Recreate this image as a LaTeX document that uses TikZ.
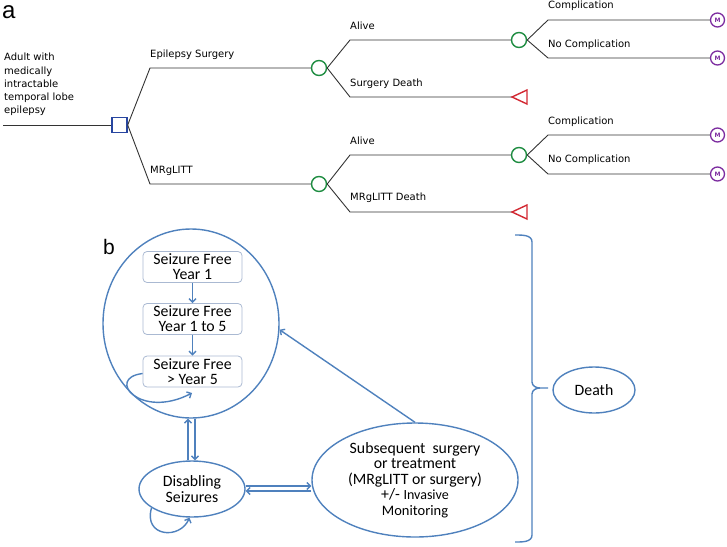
\documentclass[tikz,border=0pt]{standalone}
\usepackage{fontspec}
\setmainfont{DejaVu Sans}
\newfontfamily\calib{Carlito}
\newfontfamily\arialf{Liberation Sans}
\usetikzlibrary{shapes.geometric,arrows.meta}
\definecolor{decblue}{RGB}{40,70,160}
\definecolor{chgreen}{RGB}{30,140,65}
\definecolor{trred}{RGB}{210,40,50}
\definecolor{mkpurple}{RGB}{125,45,160}
\definecolor{bblue}{RGB}{79,129,189}
\definecolor{boxgray}{RGB}{170,185,210}
\begin{document}
\begin{tikzpicture}[x=1pt,y=-1pt,>={Straight Barb[length=3.5pt,width=7pt]},
	branch/.style={draw=black!80, line width=0.9pt},
	lbl/.style={anchor=base west, inner sep=0pt, font=\fontsize{10}{12}\selectfont},
	decision/.style={draw=decblue, line width=1.4pt, minimum size=15pt, inner sep=0pt},
	chance/.style={circle, draw=chgreen, line width=1.4pt, minimum size=15pt, inner sep=0pt},
	markov/.style={circle, draw=mkpurple, line width=1.3pt, minimum size=14pt, inner sep=0pt, text=mkpurple, font=\fontsize{6}{6}\selectfont\bfseries},
	terminal/.style={draw=trred, line width=1.4pt},
	state/.style={rectangle, rounded corners=4pt, draw=boxgray, line width=0.8pt, minimum width=99pt, minimum height=31pt, align=center, inner sep=0pt, font=\calib\fontsize{15.8}{15}\selectfont},
	oval/.style={ellipse, draw=bblue, line width=1.4pt, align=center, inner sep=0pt, font=\calib\fontsize{15.8}{15.5}\selectfont},
	link/.style={draw=bblue, line width=1.4pt}]
	\useasboundingbox (0,0) rectangle (727,546);

	\node[anchor=base west, inner sep=0pt, font=\arialf\fontsize{24}{24}\selectfont] (pa) at (2,18) {a};
	\node[anchor=north west, inner sep=0pt, align=left, font=\fontsize{10}{13.3}\selectfont] (adult) at (4,53) {Adult with\\medically\\intractable\\temporal lobe\\epilepsy};
	\coordinate (start) at (3,125);
	\node[decision] (dec) at (119.5,125) {};
	\draw[branch] (start) -- (dec);

	\coordinate (es) at (150,68);
	\coordinate (mr) at (150,184);
	\node[chance] (cs) at (319,68) {};
	\node[chance] (cm) at (319,184) {};
	\draw[branch] (dec.east) -- (es) -- (cs);
	\draw[branch] (dec.east) -- (mr) -- (cm);
	\node[lbl] (les) at (150,57) {Epilepsy Surgery};
	\node[lbl] (lmr) at (150,173.5) {MRgLITT};

	\coordinate (sa) at (350,40);
	\coordinate (sd) at (350,97);
	\node[chance] (csa) at (519,40) {};
	\coordinate (csd) at (512,97);
	\draw[branch] (cs.east) -- (sa) -- (csa);
	\draw[branch] (cs.east) -- (sd) -- (csd);
	\draw[terminal] (csd) -- ++(15,-7) -- ++(0,14) -- cycle;
	\node[lbl] (lsa) at (350,29) {Alive};
	\node[lbl] (lsd) at (350,86) {Surgery Death};

	\coordinate (ma) at (350,155);
	\coordinate (md) at (350,212);
	\node[chance] (cma) at (519,155) {};
	\coordinate (cmd) at (512,212);
	\draw[branch] (cm.east) -- (ma) -- (cma);
	\draw[branch] (cm.east) -- (md) -- (cmd);
	\draw[terminal] (cmd) -- ++(15,-7) -- ++(0,14) -- cycle;
	\node[lbl] (lma) at (350,144) {Alive};
	\node[lbl] (lmd) at (350,200.5) {MRgLITT Death};

	\node[markov] (m1) at (717.5,20) {M};
	\node[markov] (m2) at (717.5,58) {M};
	\node[markov] (m3) at (717.5,135) {M};
	\node[markov] (m4) at (717.5,174) {M};
	\draw[branch] (csa.east) -- (548,20) -- (m1);
	\draw[branch] (csa.east) -- (548,58) -- (m2);
	\draw[branch] (cma.east) -- (548,135) -- (m3);
	\draw[branch] (cma.east) -- (548,174) -- (m4);
	\node[lbl] (l1) at (548,9) {Complication};
	\node[lbl] (l2) at (548,47.5) {No Complication};
	\node[lbl] (l3) at (548,124) {Complication};
	\node[lbl] (l4) at (548,162) {No Complication};

	\node[anchor=base west, inner sep=0pt, font=\arialf\fontsize{21}{21}\selectfont] (pb) at (103,254) {b};
	\node[oval, minimum width=176pt, minimum height=189pt] (sf) at (191,323.5) {};
	\node[state] (y1) at (192.5,267) {Seizure Free\\Year 1};
	\node[state] (y5) at (192.5,319) {Seizure Free\\Year 1 to 5};
	\node[state] (yl) at (192.5,371.5) {Seizure Free\\> Year 5};
	\coordinate (yl-in) at (192,393);
	\draw[link,->] (y1) -- (y5);
	\draw[link,->] (y5) -- (yl);
	\draw[link,->] ([yshift=-2pt]yl.west) .. controls (105,378) and (140,420) .. (yl-in);

	\node[oval, minimum width=106pt, minimum height=56pt] (ds) at (192,489) {Disabling\\Seizures};
	\draw[link,->] (ds.205) .. controls (143,537) and (180,540) .. (ds.265);
	\draw[link,->] ([xshift=-4pt]ds.north) -- ([xshift=-4pt]ds.north |- sf.south);
	\draw[link,->] ([xshift=3pt]ds.north |- sf.south) -- ([xshift=3pt]ds.north);

	\node[oval, minimum width=206pt, minimum height=114pt] (sub) at (415,480) {Subsequent\ \ surgery\\or treatment\\(MRgLITT or surgery)\\+/- {\fontsize{14}{15}\selectfont Invasive}\\{\fontsize{14.5}{15}\selectfont Monitoring}};
	\draw[link,->] ([yshift=3pt]ds.east) -- ([yshift=3pt]ds.east -| sub.west);
	\draw[link,->] ([yshift=-2pt]ds.east -| sub.west) -- ([yshift=-2pt]ds.east);
	\draw[link,->] (sub.north) -- (sf.356);

	\node[oval, minimum width=82pt, minimum height=46pt] (dth) at (594,390) {Death};
	\draw[link] (515,235) to[out=0,in=90] (532,242) -- (532,382) to[out=-90,in=180] (540,388) -- (548,388);
	\draw[link] (515,542) to[out=0,in=-90] (532,535) -- (532,394) to[out=90,in=180] (540,388);
\end{tikzpicture}
\end{document}
